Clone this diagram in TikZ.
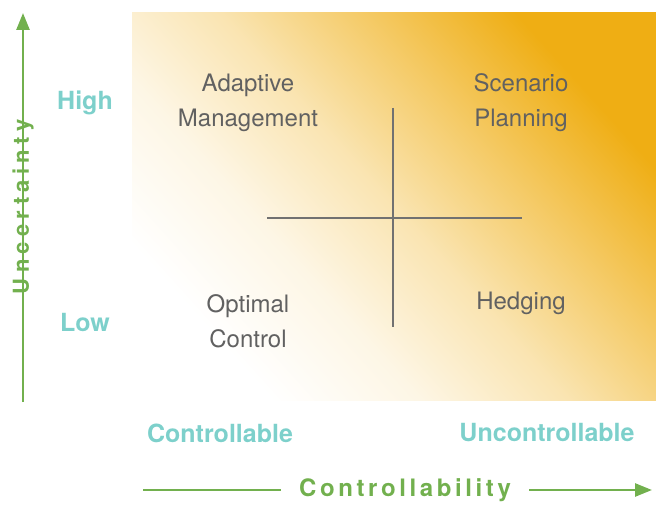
\documentclass[tikz,border=0pt]{standalone}
\usepackage{fontspec}
\setmainfont{TeX Gyre Heros}
\newfontfamily\yaxisfont{texgyreheros-bold.otf}[LetterSpace=24]
\newfontfamily\xaxisfont{texgyreheros-bold.otf}[LetterSpace=15]
\usetikzlibrary{arrows.meta}
\definecolor{quadorange}{RGB}{239,174,20}
\definecolor{levelteal}{RGB}{125,208,203}
\definecolor{axisgreen}{RGB}{114,176,78}
\definecolor{quadgray}{RGB}{97,97,97}
\pgfdeclarehorizontalshading{quadfade}{100bp}{color(0bp)=(white); color(26bp)=(white); color(38bp)=(quadorange!11); color(50bp)=(quadorange!33); color(62bp)=(quadorange!66); color(74bp)=(quadorange); color(100bp)=(quadorange)}
\tikzset{
  quad/.style={align=center,text=quadgray,font=\fontsize{24}{35}\selectfont},
  level/.style={text=levelteal,font=\fontsize{25}{30}\selectfont\bfseries},
  axisname/.style={text=axisgreen},
  axisline/.style={draw=axisgreen,line width=2.6pt},
}
\begin{document}
\begin{tikzpicture}[x=1pt,y=1pt]
\useasboundingbox (0,0) rectangle (656,504);
\shade[shading=quadfade,shading angle=42] (132,104) rectangle (656,491);
\coordinate (mid) at (393,286);
\draw[quadgray!90,line width=1.3pt] (mid|-0,396)--(mid|-0,177) (267,0|-mid)--(522,0|-mid);
\node[quad] (adapt) at (248,401){Adaptive\\Management};
\node[quad] (scen) at (521,401){Scenario\\Planning};
\node[quad] (optim) at (248,183){Optimal\\Control};
\node[quad] (hedge) at (521,201){Hedging};
\node[level] (high) at (85,401){High};\node[level] (low) at (85,181){Low};
\node[level] (ctrl) at (220,71){Controllable};\node[level] (unctrl) at (547,71){Uncontrollable};
\node[axisname,font=\yaxisfont\fontsize{22}{26}\selectfont,rotate=90,inner xsep=15pt] (ylab) at (23,297){Uncertainty};
\node[axisname,font=\xaxisfont\fontsize{24}{28}\selectfont,inner xsep=18pt] (xlab) at (405,14){Controllability};
\coordinate (ybot) at (23,102);\coordinate (ytop) at (23,491);
\coordinate (xbot) at (143,14);\coordinate (xtop) at (652,14);
\draw[axisline] (ybot)--(ylab.east);
\draw[axisline,-{Triangle[length=17pt,width=13pt]}] (ylab.west)--(ytop);
\draw[axisline] (xbot)--(xlab.west);
\draw[axisline,-{Triangle[length=17pt,width=13pt]}] (xlab.east)--(xtop);
\end{tikzpicture}
\end{document}
